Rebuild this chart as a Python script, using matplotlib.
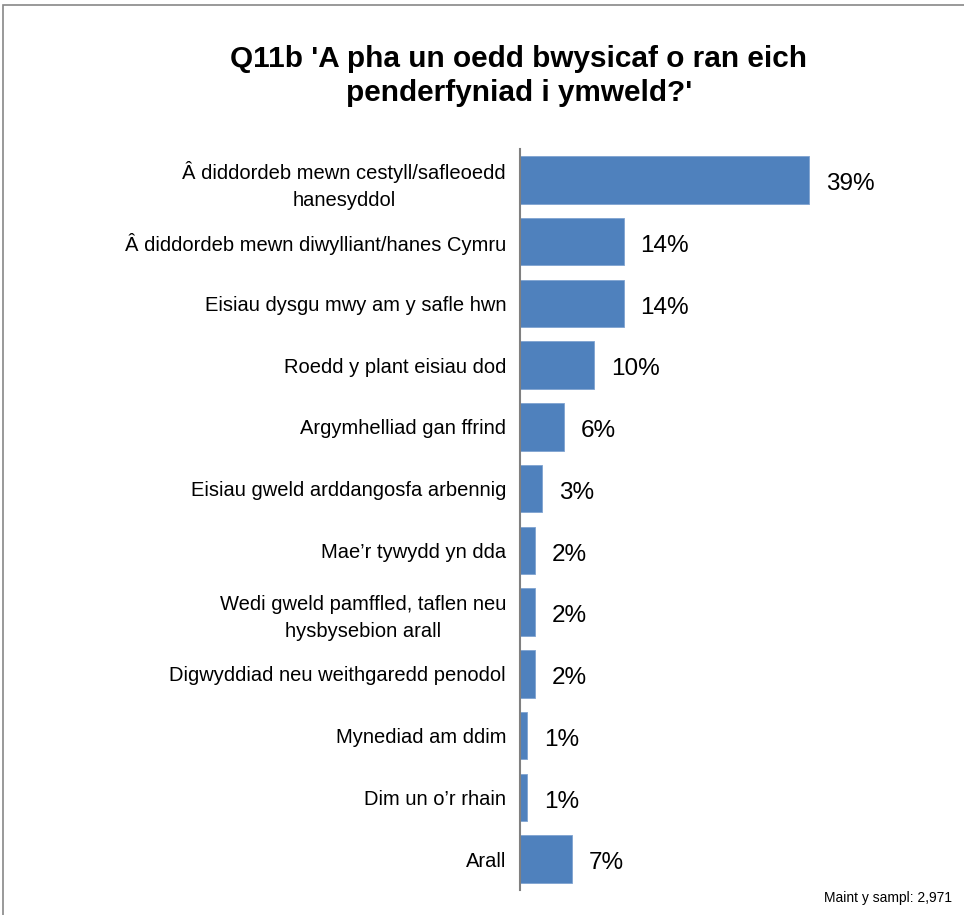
import matplotlib.pyplot as plt
from matplotlib.patches import Rectangle

plt.rcParams['font.family'] = ['Liberation Sans', 'DejaVu Sans']

categories = [
    "Â diddordeb mewn cestyll/safleoedd\nhanesyddol",
    "Â diddordeb mewn diwylliant/hanes Cymru",
    "Eisiau dysgu mwy am y safle hwn",
    "Roedd y plant eisiau dod",
    "Argymhelliad gan ffrind",
    "Eisiau gweld arddangosfa arbennig",
    "Mae’r tywydd yn dda",
    "Wedi gweld pamffled, taflen neu\nhysbysebion arall",
    "Digwyddiad neu weithgaredd penodol",
    "Mynediad am ddim",
    "Dim un o’r rhain",
    "Arall",
]
values = [39, 14, 14, 10, 6, 3, 2, 2, 2, 1, 1, 7]
value_labels = ["39%", "14%", "14%", "10%", "6%", "3%", "2%", "2%", "2%", "1%", "1%", "7%"]

fig = plt.figure(figsize=(9.64, 9.15), dpi=100)
# outer chart border
fig.patches.append(Rectangle((3 / 964, -0.01), 1.2, 1.0 - 5 / 915 + 0.01,
                             transform=fig.transFigure, fill=False,
                             edgecolor='#888888', linewidth=1.2))

ax = fig.add_axes([520 / 964, 1 - 890 / 915, 370.5 / 964, (890 - 149) / 915])
ypos = list(range(len(categories)))
ax.barh(ypos, values, height=0.77, color='#4F81BD', edgecolor='#7FA3D1', linewidth=0.6)
ax.set_xlim(0, 50)
ax.set_ylim(len(categories) - 0.5, -0.5)

for y, v, lab in zip(ypos, values, value_labels):
    ax.annotate(lab, (v, y), xytext=(12, -3), textcoords='offset points',
                ha='left', va='center', fontsize=17.5)

ax.set_yticks(ypos)
ax.set_yticklabels(categories, fontsize=14.5)
for t in ax.get_yticklabels():
    t.set_multialignment('center')
    t.set_linespacing(1.5)
ax.tick_params(axis='y', length=0, pad=10)
ax.set_xticks([])
for s in ['top', 'right', 'bottom']:
    ax.spines[s].set_visible(False)
ax.spines['left'].set_color('#808080')
ax.spines['left'].set_linewidth(1.5)

fig.text(519 / 964, 1 - 76 / 915, "Q11b 'A pha un oedd bwysicaf o ran eich\npenderfyniad i ymweld?'",
         ha='center', va='center', fontsize=21.4, fontweight='bold', linespacing=1.3)
fig.text(952 / 964, 1 - 898 / 915, "Maint y sampl: 2,971", ha='right', va='center', fontsize=10)

fig.savefig('out.png', dpi=100)
